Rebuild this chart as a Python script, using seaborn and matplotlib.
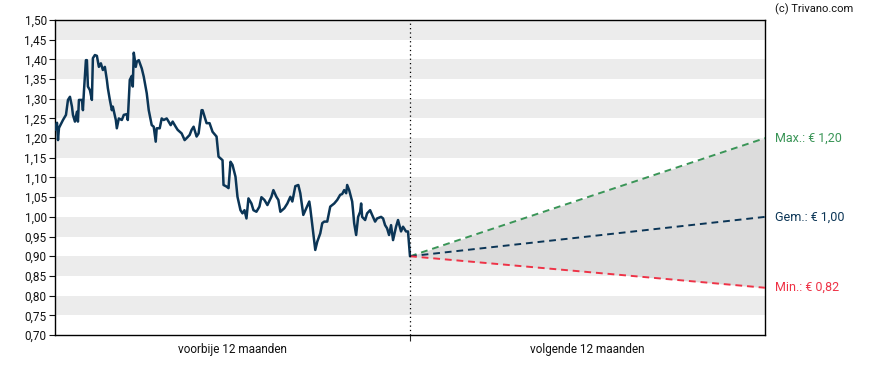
import numpy as np
import pandas as pd
import matplotlib
matplotlib.use("Agg")
import matplotlib.pyplot as plt
import seaborn as sns

# koersverloop voorbije 12 maanden (dag-index binnen de periode, slotkoers)
dagen = [0, 2, 3, 4, 8, 11, 13, 15, 17, 18, 20, 22, 23, 24, 27, 28, 29, 31, 32, 33,
         35, 37, 38, 40, 42, 44, 46, 48, 50, 52, 53, 55, 57, 58, 61, 62, 64, 67, 69, 72,
         73, 75, 77, 78, 79, 81, 82, 84, 87, 89, 92, 94, 97, 99, 101, 102, 105, 107, 109, 112,
         113, 116, 118, 121, 123, 127, 130, 132, 135, 137, 139, 142, 144, 147, 148, 152, 155, 158, 162, 164,
         168, 169, 172, 174, 176, 178, 181, 183, 186, 188, 190, 192, 194, 197, 199, 202, 205, 207, 210, 213,
         217, 219, 222, 224, 226, 230, 233, 236, 238, 241, 244, 246, 249, 252, 255, 256, 258, 261, 263, 266,
         268, 270, 273, 276, 280, 283, 286, 288, 290, 292, 293, 295, 298, 299, 300, 302, 304, 306, 307, 308,
         311, 313, 316, 318, 321, 323, 327, 329, 331, 333, 335, 337, 339, 341, 342, 344, 347, 349, 352, 354,
         356]
koers = [1.221, 1.239, 1.195, 1.226, 1.246, 1.259, 1.297, 1.305, 1.280, 1.259, 1.242, 1.267, 1.242, 1.297, 1.297, 1.271, 1.318, 1.398, 1.398, 1.331,
         1.322, 1.297, 1.403, 1.411, 1.409, 1.381, 1.390, 1.373, 1.381, 1.348, 1.327, 1.297, 1.271, 1.280, 1.246, 1.225, 1.250, 1.246, 1.259, 1.261,
         1.246, 1.348, 1.358, 1.331, 1.417, 1.381, 1.394, 1.398, 1.377, 1.356, 1.314, 1.271, 1.233, 1.229, 1.191, 1.225, 1.225, 1.250, 1.246, 1.250,
         1.246, 1.233, 1.242, 1.229, 1.221, 1.212, 1.195, 1.200, 1.208, 1.221, 1.229, 1.204, 1.212, 1.271, 1.271, 1.238, 1.238, 1.216, 1.204, 1.153,
         1.144, 1.081, 1.077, 1.073, 1.140, 1.132, 1.102, 1.051, 1.017, 1.009, 1.017, 0.996, 1.047, 1.034, 1.017, 1.013, 1.026, 1.050, 1.043, 1.030,
         1.051, 1.068, 1.051, 1.043, 1.013, 1.022, 1.034, 1.051, 1.039, 1.078, 1.081, 1.060, 1.005, 1.022, 1.039, 1.022, 0.979, 0.916, 0.937, 0.958,
         0.984, 0.988, 0.988, 1.026, 1.034, 1.043, 1.056, 1.058, 1.068, 1.060, 1.081, 1.068, 1.039, 1.013, 0.984, 0.954, 1.000, 1.013, 1.034, 1.000,
         0.992, 1.009, 1.017, 1.005, 0.988, 0.996, 1.000, 0.996, 0.979, 0.971, 0.954, 0.979, 0.941, 0.963, 0.975, 0.992, 0.963, 0.975, 0.963, 0.963,
         0.900]

periode = 356  # lengte van een periode van 12 maanden in dag-index
laatste = 0.90
koersdoel_max = 1.20
koersdoel_gem = 1.00
koersdoel_min = 0.82

y_ticks = [0.70, 0.75, 0.80, 0.85, 0.90, 0.95, 1.00, 1.05, 1.10, 1.15, 1.20, 1.25, 1.30, 1.35, 1.40, 1.45, 1.50]
x_labels = ["voorbije 12 maanden", "volgende 12 maanden"]

kleur_lijn = "#0b3556"
kleur_max = "#3a9557"
kleur_min = "#ee3347"

sns.set_style("white")
plt.rcParams['font.family'] = ['Roboto', 'DejaVu Sans']

fig = plt.figure(figsize=(8.88, 3.70), dpi=100)
ax = fig.add_axes([55 / 888, 1 - 335 / 370, 710 / 888, 315 / 370])

# grijze banden
for lo in y_ticks[1:-1:2]:
    ax.axhspan(lo, lo + 0.05, color="#ececec", lw=0, zorder=0)

df = pd.DataFrame({"dag": dagen, "koers": koers})
sns.lineplot(data=df, x="dag", y="koers", color=kleur_lijn, lw=1.8, ax=ax, zorder=4)

# prognose
fx = [periode, 2 * periode]
ax.fill_between(fx, [laatste, koersdoel_min], [laatste, koersdoel_max], color="#dcdcdc", lw=0, zorder=1)
for doel, kl in [(koersdoel_max, kleur_max), (koersdoel_gem, kleur_lijn), (koersdoel_min, kleur_min)]:
    ax.plot(fx, [laatste, doel], color=kl, lw=1.4, ls=(0, (3.5, 2.5)), zorder=3)

ax.axvline(periode, color="black", lw=0.9, ls=(0, (1, 2.5)), zorder=5)

ax.set_xlim(0, 2 * periode)
ax.set_ylim(0.70, 1.50)
ax.set_yticks(y_ticks)
ax.set_yticklabels([f"{v:.2f}".replace(".", ",") for v in y_ticks])
ax.set_xticks([periode])
ax.set_xticklabels([""])
ax.set_xticks([periode / 2, 1.5 * periode], minor=True)
ax.set_xticklabels(x_labels, minor=True)
ax.tick_params(axis="x", which="minor", length=0, pad=6, labelsize=8.5, colors="#111111")
ax.tick_params(axis="x", which="major", length=4, width=0.8, direction="out", bottom=True)
ax.tick_params(axis="y", length=4, width=0.8, direction="out", left=True, labelsize=8.5, pad=2, colors="#111111")
ax.set_xlabel("")
ax.set_ylabel("")
for s in ax.spines.values():
    s.set_visible(True)
    s.set_color("black")
    s.set_linewidth(1.0)

# labels rechts
for doel, kl, naam in [(koersdoel_max, kleur_max, "Max."), (koersdoel_gem, kleur_lijn, "Gem."),
                       (koersdoel_min, kleur_min, "Min.")]:
    ax.annotate(f"{naam}: € " + f"{doel:.2f}".replace(".", ","),
                xy=(1, doel), xycoords=("axes fraction", "data"), xytext=(7, 0),
                textcoords="offset points", va="center", ha="left", color=kl, fontsize=9)

fig.text(775 / 888, 1 - 9 / 370, "(c) Trivano.com", ha="left", va="center", fontsize=8, color="#111111")

fig.savefig("out.png", dpi=100)
